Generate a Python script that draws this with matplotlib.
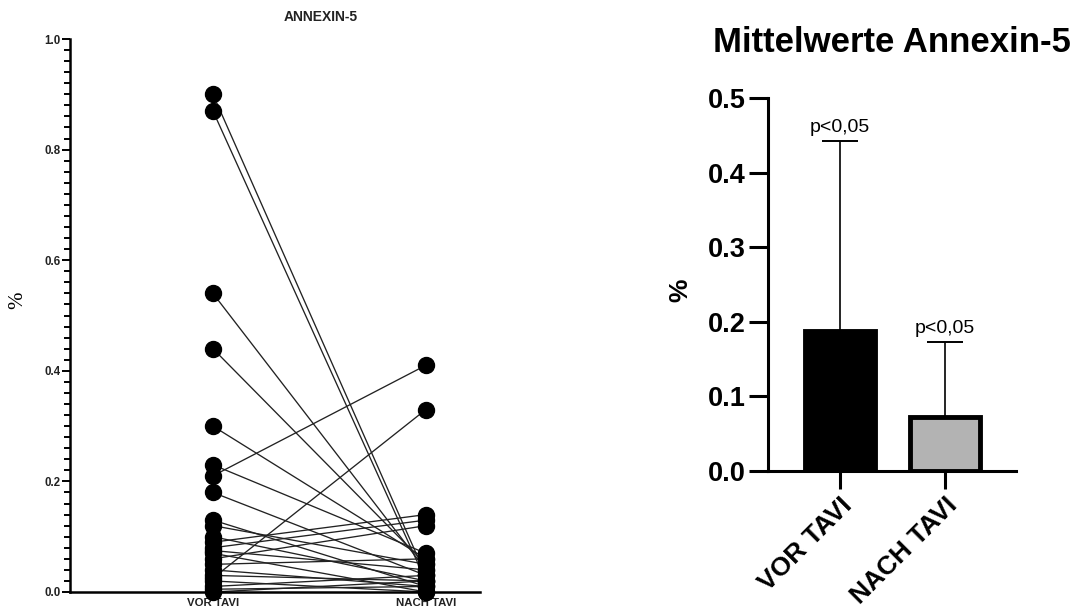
import matplotlib
matplotlib.use("Agg")
import matplotlib.pyplot as plt
import numpy as np
from matplotlib.ticker import MultipleLocator

plt.rcParams['font.family'] = ['Liberation Sans', 'DejaVu Sans']

# Paired measurements, one entry per patient
groups = ["VOR TAVI", "NACH TAVI"]
vor_tavi = [0.90, 0.87, 0.54, 0.44, 0.30, 0.23, 0.21, 0.18,
            0.13, 0.12, 0.10, 0.09, 0.08, 0.075, 0.07, 0.06,
            0.05, 0.04, 0.03, 0.025, 0.02, 0.01, 0.005, 0.00]
nach_tavi = [0.03, 0.02, 0.04, 0.05, 0.06, 0.07, 0.41, 0.03,
             0.01, 0.05, 0.02, 0.14, 0.13, 0.04, 0.00, 0.12,
             0.06, 0.01, 0.02, 0.33, 0.00, 0.03, 0.01, 0.02]

# Group means with upper standard deviation
mean_values = [0.187, 0.073]
sd_upper = [0.256, 0.100]
p_labels = ["p<0,05", "p<0,05"]
bar_colors = ["black", "#b3b3b3"]

W, H = 1077, 612
fig = plt.figure(figsize=(W / 100, H / 100), dpi=100)

# ---- paired dot plot ----
ax1 = fig.add_axes([70 / W, 1 - 592 / H, 410 / W, 553 / H])
for a, b in zip(vor_tavi, nach_tavi):
    ax1.plot([0, 1], [a, b], color="#222222", lw=0.95, zorder=2, clip_on=False)
ax1.plot(np.zeros(len(vor_tavi)), vor_tavi, "o", color="black", ms=11.5,
         zorder=3, clip_on=False)
ax1.plot(np.ones(len(nach_tavi)), nach_tavi, "o", color="black", ms=11.5,
         zorder=3, clip_on=False)
ax1.set_xlim(-0.671, 1.254)
ax1.set_ylim(0, 1.0)
for s in ["top", "right"]:
    ax1.spines[s].set_visible(False)
ax1.spines["left"].set_linewidth(1.8)
ax1.spines["bottom"].set_linewidth(1.8)
ax1.yaxis.set_minor_locator(MultipleLocator(0.02))
ax1.set_yticks(np.arange(0, 1.01, 0.2))
ax1.set_yticklabels(["0.0", "0.2", "0.4", "0.6", "0.8", "1.0"],
                    fontsize=8.3, fontweight="bold", color="#222222")
ax1.tick_params(axis="y", which="major", length=6, width=1.4, pad=1)
ax1.tick_params(axis="y", which="minor", length=4, width=1.4)
ax1.set_xticks([0, 1])
ax1.set_xticklabels(groups, fontsize=8.2, fontweight="bold", color="#222222")
ax1.tick_params(axis="x", length=0, pad=4)
fig.text(321 / W, 1 - 17 / H, "ANNEXIN-5", fontsize=10, fontweight="bold",
         color="#222222", ha="center", va="center")
fig.text(18 / W, 1 - 300 / H, "%", rotation=90, fontsize=15,
         family="Liberation Serif", ha="center", va="center")

# ---- mean bar chart ----
ax2 = fig.add_axes([768 / W, 1 - 471 / H, 248 / W, 373 / H])
x = np.arange(len(groups))
ax2.bar(x, mean_values, width=0.667, color=bar_colors, edgecolor="black",
        linewidth=3.5, zorder=2)
ax2.errorbar(x, mean_values, yerr=[[0, 0], sd_upper], fmt="none",
             ecolor="black", elinewidth=1.2, capsize=13, capthick=1.4, zorder=1)
for xi, m, e, lab in zip(x, mean_values, sd_upper, p_labels):
    ax2.text(xi, m + e + 0.006, lab, ha="center", va="bottom", fontsize=14)
ax2.set_xlim(-0.686, 1.676)
ax2.set_ylim(0, 0.5)
for s in ["top", "right"]:
    ax2.spines[s].set_visible(False)
ax2.spines["left"].set_linewidth(2.2)
ax2.spines["bottom"].set_linewidth(2.2)
ax2.set_yticks(np.arange(0, 0.51, 0.1))
ax2.set_yticklabels(["0.0", "0.1", "0.2", "0.3", "0.4", "0.5"],
                    fontsize=19.5, fontweight="bold")
ax2.tick_params(axis="y", length=14, width=2.2, pad=2)
ax2.set_xticks(x)
ax2.set_xticklabels(groups, fontsize=19, fontweight="bold", rotation=45,
                    ha="right", va="top", rotation_mode="anchor")
ax2.tick_params(axis="x", length=13, width=2.2, pad=3)
fig.text(680 / W, 1 - 290 / H, "%", rotation=90, fontsize=19,
         fontweight="bold", ha="center", va="center")
fig.text(892 / W, 1 - 42 / H, "Mittelwerte Annexin-5", fontsize=25,
         fontweight="bold", ha="center", va="center")

fig.savefig("out.png", dpi=100)
